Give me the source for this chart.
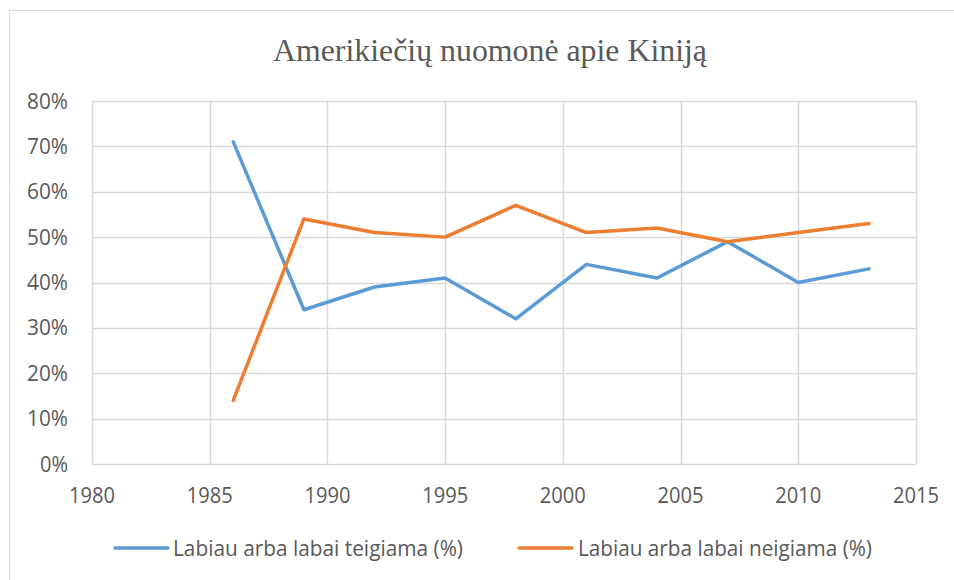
<!DOCTYPE html>
<html>
<head>
<meta charset="utf-8">
<script src="https://cdn.jsdelivr.net/npm/d3@7"></script>
<style>
  body { margin: 0; background: #fff; }
  #chart { width: 954px; height: 580px; }
</style>
</head>
<body>
<div id="chart"></div>
<script>
const title = 'Amerikiečių nuomonė apie Kiniją';
const years = [1986, 1989, 1992, 1995, 1998, 2001, 2004, 2007, 2010, 2013];
const positive = [71, 34, 39, 41, 32, 44, 41, 49, 40, 43];
const negative = [14, 54, 51, 50, 57, 51, 52, 49, 51, 53];
const seriesNames = ['Labiau arba labai teigiama (%)', 'Labiau arba labai neigiama (%)'];
const xTicks = [1980, 1985, 1990, 1995, 2000, 2005, 2010, 2015];
const yTicks = [0, 10, 20, 30, 40, 50, 60, 70, 80];

const width = 954;
const height = 580;
const plot = {left: 92, right: 916, top: 101, bottom: 464};
const colors = ['#5B9BD5', '#ED7D31'];
const textColor = '#595959';
const gridColor = '#d9d9d9';
const sans = '\'Open Sans\', sans-serif';

const svg = d3
    .select('#chart')
    .append('svg')
    .attr('width', width)
    .attr('height', height);

// chart border
svg
    .append('rect')
    .attr('x', 9.5)
    .attr('y', 10.5)
    .attr('width', 960)
    .attr('height', 600)
    .attr('fill', '#fff')
    .attr('stroke', gridColor);

const xScale = d3
    .scaleLinear()
    .domain([1980, 2015])
    .range([plot.left, plot.right]);

const yScale = d3
    .scaleLinear()
    .domain([0, 80])
    .range([plot.bottom, plot.top]);

svg
    .append('text')
    .attr('x', 273)
    .attr('y', 61)
    .attr('textLength', 434)
    .attr('lengthAdjust', 'spacingAndGlyphs')
    .style('font-family', '\'Liberation Serif\', \'Times New Roman\', serif')
    .style('font-size', '32px')
    .style('fill', textColor)
    .text(title);

// gridlines
svg
    .append('g')
    .selectAll('line')
    .data(yTicks)
    .enter()
    .append('line')
    .attr('x1', plot.left)
    .attr('x2', plot.right)
    .attr('y1', (d) => Math.round(yScale(d)) + 0.5)
    .attr('y2', (d) => Math.round(yScale(d)) + 0.5)
    .attr('stroke', gridColor)
    .attr('stroke-width', 1.5);

svg
    .append('g')
    .selectAll('line')
    .data(xTicks)
    .enter()
    .append('line')
    .attr('x1', (d) => Math.round(xScale(d)) + 0.5)
    .attr('x2', (d) => Math.round(xScale(d)) + 0.5)
    .attr('y1', plot.top)
    .attr('y2', plot.bottom)
    .attr('stroke', gridColor)
    .attr('stroke-width', 1.5);

// y axis labels
svg
    .append('g')
    .selectAll('text')
    .data(yTicks)
    .enter()
    .append('text')
    .attr('x', 68)
    .attr('y', (d) => yScale(d) + 7.5)
    .attr('text-anchor', 'end')
    .attr('textLength', (d) => d === 0 ? 28 : 41)
    .attr('lengthAdjust', 'spacingAndGlyphs')
    .style('font-family', sans)
    .style('font-size', '21px')
    .style('fill', textColor)
    .text((d) => d + '%');

// x axis labels
svg
    .append('g')
    .selectAll('text')
    .data(xTicks)
    .enter()
    .append('text')
    .attr('x', (d) => xScale(d))
    .attr('y', 503)
    .attr('text-anchor', 'middle')
    .attr('textLength', 46)
    .attr('lengthAdjust', 'spacingAndGlyphs')
    .style('font-family', sans)
    .style('font-size', '21px')
    .style('fill', textColor)
    .text((d) => d);

const line = d3
    .line()
    .x((d, i) => xScale(years[i]))
    .y((d) => yScale(d));

[positive, negative].forEach((values, i) => {
  svg
      .append('path')
      .datum(values)
      .style('fill', 'none')
      .attr('stroke', colors[i])
      .attr('stroke-width', 3.5)
      .attr('stroke-linejoin', 'round')
      .attr('stroke-linecap', 'round')
      .attr('d', line);
});

// legend
const legendItems = [
  {x: 115, textX: 173, len: 290},
  {x: 519, textX: 578, len: 294},
];

const legend = svg
    .selectAll('.legend')
    .data(legendItems)
    .enter()
    .append('g')
    .attr('class', 'legend');

legend
    .append('line')
    .attr('x1', (d) => d.x)
    .attr('x2', (d) => d.x + 53)
    .attr('y1', 548)
    .attr('y2', 548)
    .attr('stroke', (d, i) => colors[i])
    .attr('stroke-width', 3.5)
    .attr('stroke-linecap', 'round');

legend
    .append('text')
    .attr('x', (d) => d.textX)
    .attr('y', 556)
    .attr('textLength', (d) => d.len)
    .attr('lengthAdjust', 'spacingAndGlyphs')
    .style('font-family', sans)
    .style('font-size', '21px')
    .style('fill', textColor)
    .text((d, i) => seriesNames[i]);
</script>
</body>
</html>
